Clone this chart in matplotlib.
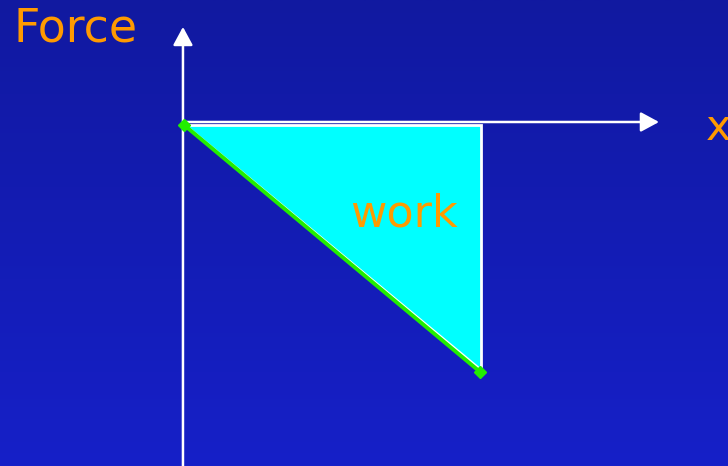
import numpy as np
import matplotlib
matplotlib.use('Agg')
import matplotlib.pyplot as plt
import matplotlib.transforms as mtransforms

# displacement and force along the line (force falls linearly with x)
x_disp = [0.0, 1.0]
force = [0.0, -1.0]
area_label = 'work'
x_label = 'x'
y_label = 'Force'

orange = '#ff9a00'
cyan = '#00ffff'
green = '#22ee00'


def main():
    fig = plt.figure(figsize=(7.28, 4.66), dpi=100)
    ax = fig.add_axes([0, 0, 1, 1])
    ax.set_xlim(-0.625, 1.834)
    ax.set_ylim(-1.389, 0.498)
    ax.axis('off')

    # blue gradient backdrop
    grad = np.linspace(0, 1, 256).reshape(-1, 1)
    cmap = matplotlib.colors.LinearSegmentedColormap.from_list('bg', ['#1119a0', '#1620c8'])
    ax.imshow(grad, extent=(-0.625, 1.834, -1.389, 0.498), origin='upper',
              aspect='auto', cmap=cmap, zorder=0)

    # axes with arrowheads
    head = '-|>,head_length=0.37,head_width=0.2'
    ax.annotate('', xy=(-0.007, 0.389), xytext=(-0.007, -1.389),
                arrowprops=dict(arrowstyle=head, color='white', lw=1.8,
                                mutation_scale=30, shrinkA=0, shrinkB=0), zorder=2)
    ax.annotate('', xy=(1.601, 0.004), xytext=(0.0, 0.004),
                arrowprops=dict(arrowstyle=head, color='white', lw=1.8,
                                mutation_scale=30, shrinkA=0, shrinkB=0), zorder=2)

    # shaded work area under the force line
    xs = [x_disp[0], x_disp[1], x_disp[1]]
    ys = [force[0] - 0.008, force[0] - 0.008, force[1]]
    ax.fill(xs, ys, facecolor=cyan, edgecolor='white', lw=2, zorder=3)

    # force line, nudged slightly below the white edge
    off = mtransforms.offset_copy(ax.transData, fig=fig, x=-1.2, y=-1.8, units='dots')
    ax.plot(x_disp, force, color=green, lw=2.8, transform=off, zorder=4,
            solid_capstyle='butt')
    ax.plot(x_disp, force, linestyle='none', marker='D', ms=6, color=green,
            transform=off, zorder=4)

    ax.text(0.74, -0.37, area_label, color=orange, fontsize=32, ha='center',
            va='center', zorder=5)
    ax.text(-0.58, 0.38, y_label, color=orange, fontsize=33, ha='left',
            va='center', zorder=5)
    ax.text(1.76, -0.02, x_label, color=orange, fontsize=31, ha='left',
            va='center', zorder=5)

    fig.savefig('out.png', dpi=100)


if __name__ == '__main__':
    main()
